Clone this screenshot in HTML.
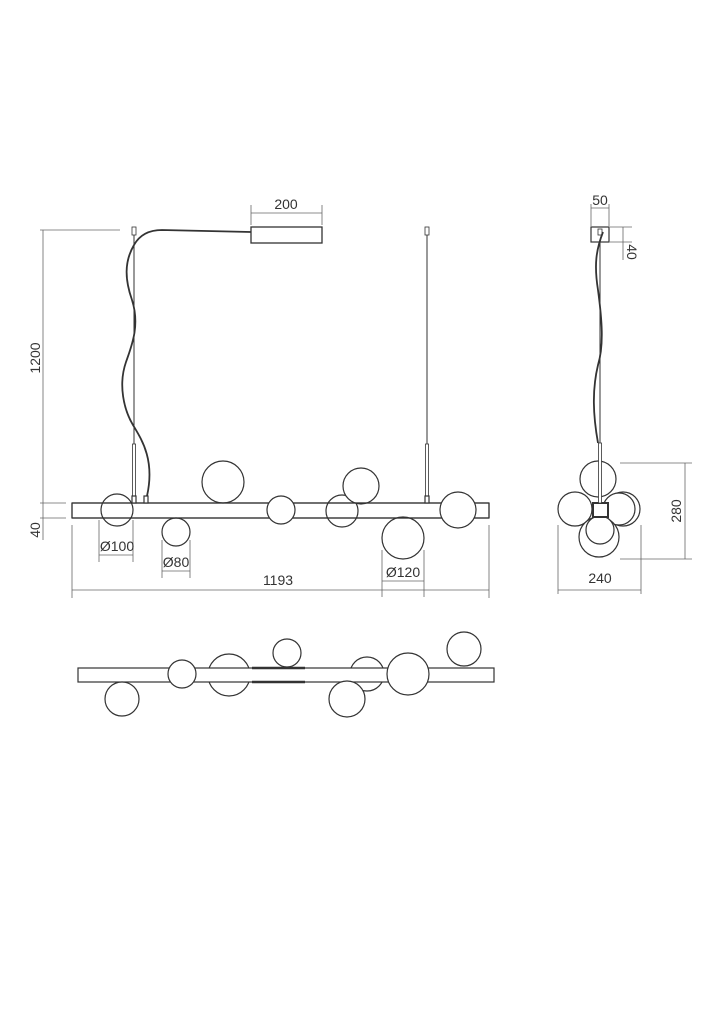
<!DOCTYPE html>
<html><head><meta charset="utf-8"><style>
html,body{margin:0;padding:0;background:#fff}
svg{display:block}
text{font-family:"Liberation Sans",sans-serif;font-size:14px;fill:#333}
</style></head><body>
<svg width="717" height="1024" viewBox="0 0 717 1024" xmlns="http://www.w3.org/2000/svg">
<g fill="none" stroke="#333" stroke-width="1.2">
<!-- FRONT VIEW -->
<!-- globes behind bar -->
<circle cx="117" cy="510" r="16" fill="#fff"/>
<circle cx="342" cy="511" r="16" fill="#fff"/>
<circle cx="176" cy="532" r="14" fill="#fff"/>
<circle cx="403" cy="538" r="21" fill="#fff"/>
<circle cx="223" cy="482" r="21" fill="#fff"/>
<circle cx="361" cy="486" r="18" fill="#fff"/>
<!-- bar -->
<rect x="72" y="503" width="417" height="15" fill="#fff" fill-opacity="0"/>
<line x1="72" y1="503" x2="489" y2="503"/>
<line x1="72" y1="518" x2="489" y2="518"/>
<line x1="72" y1="503" x2="72" y2="518"/>
<line x1="489" y1="503" x2="489" y2="518"/>
<circle cx="281" cy="510" r="14" fill="#fff"/>
<circle cx="458" cy="510" r="18" fill="#fff"/>
<!-- rods -->
<line x1="134" y1="235" x2="134" y2="444" stroke-width="1"/>
<rect x="132.5" y="444" width="3" height="52" stroke-width="0.8"/>
<rect x="132" y="496" width="4" height="7" fill="#fff"/>
<rect x="132" y="227" width="4" height="8" stroke-width="0.8"/>
<rect x="144" y="496" width="4" height="7" fill="#fff"/>
<line x1="427" y1="235" x2="427" y2="444" stroke-width="1"/>
<rect x="425.5" y="444" width="3" height="52" stroke-width="0.8"/>
<rect x="425" y="496" width="4" height="7" fill="#fff"/>
<rect x="425" y="227" width="4" height="8" stroke-width="0.8"/>
<!-- canopy -->
<rect x="251" y="227" width="71" height="16" stroke-width="1.3"/>
<!-- cable -->
<path d="M251,232 L162,230 C148,230 139,236 134,245 C124,262 125,280 132,300 C140,325 132,345 126,362 C118,385 124,410 133,425 C142,440 155,460 147,496" stroke-width="1.8"/>
<!-- dims -->
<g stroke="#666" stroke-width="0.8">
<line x1="251" y1="205" x2="251" y2="225"/><line x1="322" y1="205" x2="322" y2="225"/><line x1="251" y1="213" x2="322" y2="213"/>
<line x1="40" y1="230" x2="120" y2="230"/><line x1="43" y1="230" x2="43" y2="540"/>
<line x1="40" y1="503" x2="66" y2="503"/><line x1="40" y1="518" x2="66" y2="518"/>
<line x1="72" y1="525" x2="72" y2="598"/><line x1="489" y1="525" x2="489" y2="598"/><line x1="72" y1="590" x2="489" y2="590"/>
<line x1="99" y1="520" x2="99" y2="562"/><line x1="133" y1="520" x2="133" y2="562"/><line x1="99" y1="555" x2="133" y2="555"/>
<line x1="162" y1="540" x2="162" y2="578"/><line x1="190" y1="540" x2="190" y2="578"/><line x1="162" y1="571" x2="190" y2="571"/>
<line x1="382" y1="550" x2="382" y2="597"/><line x1="424" y1="550" x2="424" y2="597"/><line x1="382" y1="581" x2="424" y2="581"/>
</g>
<!-- SIDE VIEW -->
<circle cx="623" cy="509" r="17" fill="#fff"/>
<circle cx="619" cy="509" r="16" fill="#fff"/>
<circle cx="598" cy="479" r="18" fill="#fff"/>
<circle cx="575" cy="509" r="17" fill="#fff"/>
<circle cx="599" cy="537" r="20" fill="#fff"/>
<circle cx="600" cy="530" r="14" fill="#fff"/>
<rect x="593" y="503" width="15" height="14" fill="#fff" stroke-width="2"/>
<line x1="600" y1="240" x2="600" y2="443" stroke-width="1"/>
<rect x="598.5" y="443" width="3" height="60" fill="#fff" stroke-width="0.8"/>
<rect x="591" y="227" width="18" height="15" stroke-width="1.2"/>
<rect x="598" y="229" width="4" height="6" stroke-width="0.8"/>
<path d="M603,232 C596,250 594,265 598,290 C602,320 604,345 598,365 C592,390 593,415 598,443" stroke-width="1.8"/>
<g stroke="#666" stroke-width="0.8">
<line x1="591" y1="204" x2="591" y2="226"/><line x1="609" y1="204" x2="609" y2="226"/><line x1="591" y1="208" x2="609" y2="208"/>
<line x1="610" y1="227" x2="632" y2="227"/><line x1="610" y1="242" x2="632" y2="242"/><line x1="623" y1="227" x2="623" y2="260"/>
<line x1="620" y1="463" x2="692" y2="463"/><line x1="620" y1="559" x2="692" y2="559"/><line x1="685" y1="463" x2="685" y2="559"/>
<line x1="558" y1="525" x2="558" y2="594"/><line x1="641" y1="525" x2="641" y2="594"/><line x1="558" y1="590" x2="641" y2="590"/>
</g>
<!-- BOTTOM VIEW -->
<circle cx="229" cy="675" r="21" fill="#fff"/>
<circle cx="367" cy="674" r="17" fill="#fff"/>
<rect x="78" y="668" width="416" height="14" fill="#fff"/>
<line x1="252" y1="668" x2="305" y2="668" stroke-width="2.5"/>
<line x1="252" y1="682" x2="305" y2="682" stroke-width="2.5"/>
<circle cx="122" cy="699" r="17" fill="#fff"/>
<circle cx="182" cy="674" r="14" fill="#fff"/>
<circle cx="287" cy="653" r="14" fill="#fff"/>
<circle cx="347" cy="699" r="18" fill="#fff"/>
<circle cx="408" cy="674" r="21" fill="#fff"/>
<circle cx="464" cy="649" r="17" fill="#fff"/>
</g>
<text x="286" y="209" text-anchor="middle">200</text>
<text transform="translate(40,358) rotate(-90)" text-anchor="middle">1200</text>
<text transform="translate(40,530) rotate(-90)" text-anchor="middle">40</text>
<text x="278" y="585" text-anchor="middle">1193</text>
<text x="117" y="551" text-anchor="middle">Ø100</text>
<text x="176" y="567" text-anchor="middle">Ø80</text>
<text x="403" y="577" text-anchor="middle">Ø120</text>
<text x="600" y="205" text-anchor="middle">50</text>
<text transform="translate(627,252) rotate(90)" text-anchor="middle">40</text>
<text transform="translate(681,511) rotate(-90)" text-anchor="middle">280</text>
<text x="600" y="583" text-anchor="middle">240</text>
</svg>
</body></html>
